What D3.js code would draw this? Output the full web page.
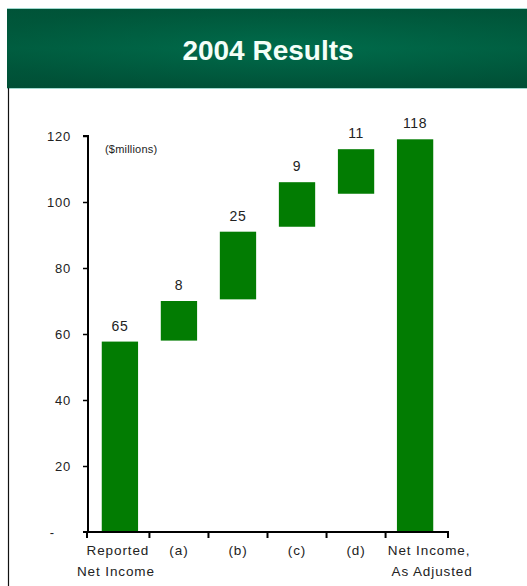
<!DOCTYPE html>
<html><head><meta charset="utf-8">
<script src="https://cdn.jsdelivr.net/npm/d3@7"></script>
<style>html,body{margin:0;padding:0;background:#fff;}svg{display:block;}</style>
</head><body>
<script>
const categories = ["Reported\nNet Income", "(a)", "(b)", "(c)", "(d)", "Net Income,\nAs Adjusted"];
const barStart = [0, 58, 70.5, 92.5, 102.5, 0];
const barEnd = [57.7, 70, 91, 106, 116, 119];
const valueLabels = ["65", "8", "25", "9", "11", "118"];
const yTicks = [0, 20, 40, 60, 80, 100, 120];
const yTickLabels = ["-", "20", "40", "60", "80", "100", "120"];

const W = 527, H = 586;
const svg = d3.select("body").append("svg").attr("width", W).attr("height", H);
const defs = svg.append("defs");
const g1 = defs.append("linearGradient").attr("id", "hdr").attr("x1", 0).attr("y1", 0).attr("x2", 0).attr("y2", 1);
g1.append("stop").attr("offset", "0").attr("stop-color", "#005a3c");
g1.append("stop").attr("offset", "0.5").attr("stop-color", "#006847");
g1.append("stop").attr("offset", "1").attr("stop-color", "#005238");
const g2 = defs.append("radialGradient").attr("id", "hdr2").attr("cx", 0.55).attr("cy", 0.5).attr("r", 0.6);
g2.append("stop").attr("offset", "0").attr("stop-color", "#007050").attr("stop-opacity", 0.5);
g2.append("stop").attr("offset", "1").attr("stop-color", "#004a32").attr("stop-opacity", 0.4);

// header
svg.append("rect").attr("x", 7).attr("y", 8).attr("width", W - 7).attr("height", 81).attr("fill", "#9fd9cf");
svg.append("rect").attr("x", 7).attr("y", 9).attr("width", W - 7).attr("height", 79).attr("fill", "url(#hdr)");
svg.append("rect").attr("x", 7).attr("y", 9).attr("width", W - 7).attr("height", 79).attr("fill", "url(#hdr2)");
svg.append("text").attr("x", 268).attr("y", 60).attr("text-anchor", "middle")
  .attr("font-family", "Liberation Sans, Arial, sans-serif").attr("font-weight", "bold")
  .attr("font-size", 28).attr("fill", "#f4fff8").text("2004 Results");

// panel left border
svg.append("line").attr("x1", 8.5).attr("x2", 8.5).attr("y1", 88).attr("y2", H).attr("stroke", "#111").attr("stroke-width", 1.2);

const x = d3.scaleBand().domain(categories).range([87, 448]).paddingInner(0.385).paddingOuter(0.25);
const y = d3.scaleLinear().domain([0, 120]).range([532, 136]);

const font = "Liberation Sans, Arial, sans-serif";

// bars
svg.append("g").selectAll("rect").data(categories).join("rect")
  .attr("x", d => x(d)).attr("width", x.bandwidth())
  .attr("y", (d, i) => y(barEnd[i])).attr("height", (d, i) => y(barStart[i]) - y(barEnd[i]))
  .attr("fill", "#027c02");

// value labels
svg.append("g").selectAll("text").data(categories).join("text")
  .attr("x", d => x(d) + x.bandwidth() / 2).attr("y", (d, i) => y(barEnd[i]) - 11)
  .attr("text-anchor", "middle").attr("font-family", font).attr("font-size", 14)
  .attr("letter-spacing", 0.6).attr("fill", "#222").text((d, i) => valueLabels[i]);

// y axis
const yAxis = d3.axisLeft(y).tickValues(yTicks).tickSize(5).tickPadding(12)
  .tickFormat((d, i) => yTickLabels[i]);
const ya = svg.append("g").attr("transform", "translate(88,0)").call(yAxis);
ya.select(".domain").attr("stroke", "#000").attr("stroke-width", 2).attr("d", "M-5,136H0V532");
ya.selectAll(".tick line").attr("stroke", "#000").attr("stroke-width", 1.5);
ya.selectAll(".tick").filter(d => d === 0).select("line").remove();
ya.selectAll("text").attr("font-family", font).attr("font-size", 13).attr("letter-spacing", 0.8).attr("fill", "#222");
ya.selectAll(".tick").filter(d => d === 0).select("text").attr("x", -33);

// x axis
const xa = svg.append("g");
xa.append("line").attr("x1", 83).attr("x2", 449).attr("y1", 532).attr("y2", 532).attr("stroke", "#000").attr("stroke-width", 2);
const bounds = categories.map(c => x(c) - x.step() * x.paddingInner() / 2).concat([448]);
bounds[0] = 87;
xa.selectAll("line.t").data(bounds).join("line").attr("class", "t")
  .attr("x1", d => d).attr("x2", d => d).attr("y1", 532).attr("y2", 538).attr("stroke", "#000").attr("stroke-width", 2);
const labelOffsets = [-2, 0, 0, 0, 0, 14];
categories.forEach((c, i) => {
  const lines = c.split("\n");
  const t = xa.append("text").attr("text-anchor", "middle").attr("font-family", font).attr("font-size", 13.5)
    .attr("letter-spacing", 0.9).attr("fill", "#222");
  lines.forEach((ln, j) => {
    t.append("tspan").attr("x", x(c) + x.bandwidth() / 2 + labelOffsets[i] + (i === 0 ? -2 * j : 0) + (i === 5 ? 3 * j : 0))
      .attr("y", 555 + j * 21).text(ln);
  });
});

// units note
svg.append("text").attr("x", 105).attr("y", 153).attr("font-family", font).attr("font-size", 11)
  .attr("letter-spacing", 0.2).attr("fill", "#222").text("($millions)");
</script>
</body></html>
